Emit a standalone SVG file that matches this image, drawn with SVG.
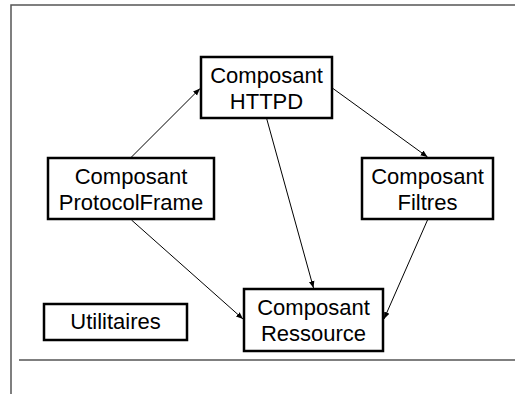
<svg xmlns="http://www.w3.org/2000/svg" width="515" height="394" viewBox="0 0 515 394">
<defs>
<marker id="ah" viewBox="0 0 10 10" refX="10" refY="5" markerWidth="7" markerHeight="7" orient="auto" markerUnits="userSpaceOnUse">
<path d="M0,1 L10,5 L0,9 z" fill="#000"/>
</marker>
<style>
.box{fill:#fff;stroke:#000;stroke-width:2.5}
.t{font-family:"Liberation Sans",Arial,sans-serif;font-size:22px;fill:#000;text-anchor:middle}
.c{stroke:#000;stroke-width:1;fill:none;marker-end:url(#ah)}
.frame{stroke:#555;stroke-width:1.5;fill:none}
</style>
</defs>
<rect width="515" height="394" fill="#fff"/>
<g id="frame">
<path class="frame" d="M11,394 V5 H515"/>
<path class="frame" d="M19,360 H515"/>
</g>
<g id="connectors">
<line class="c" x1="131.5" y1="157" x2="200" y2="88.5"/>
<line class="c" x1="333" y1="88.5" x2="427.5" y2="157"/>
<line class="c" x1="266.5" y1="118" x2="313.5" y2="288"/>
<line class="c" x1="131.5" y1="220" x2="243" y2="319"/>
<line class="c" x1="427.5" y1="220" x2="384" y2="319"/>
</g>
<g id="httpd">
<rect class="box" x="201" y="57" width="131" height="61"/>
<text class="t" x="266.5" y="83">Composant</text>
<text class="t" x="266.5" y="109">HTTPD</text>
</g>
<g id="protocolframe">
<rect class="box" x="48" y="158" width="166" height="61"/>
<text class="t" x="131" y="184">Composant</text>
<text class="t" x="131" y="210">ProtocolFrame</text>
</g>
<g id="filtres">
<rect class="box" x="362" y="158" width="131" height="61"/>
<text class="t" x="427.5" y="184">Composant</text>
<text class="t" x="427.5" y="210">Filtres</text>
</g>
<g id="ressource">
<rect class="box" x="244" y="289" width="139" height="62"/>
<text class="t" x="313.5" y="315">Composant</text>
<text class="t" x="313.5" y="341">Ressource</text>
</g>
<g id="utilitaires">
<rect class="box" x="44" y="304" width="143" height="36"/>
<text class="t" x="115.5" y="329">Utilitaires</text>
</g>
</svg>
